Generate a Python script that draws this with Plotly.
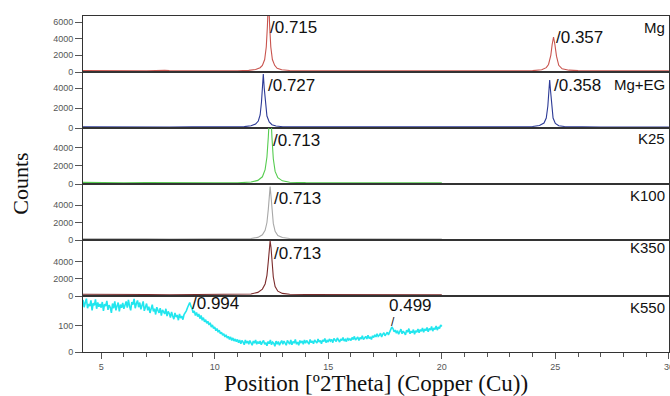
import numpy as np
import plotly.graph_objects as go
from plotly.subplots import make_subplots

# ---------------- data ----------------
samples = ["Mg", "Mg+EG", "K25", "K100", "K350", "K550"]
colors = ["#c9544e", "#2c3a96", "#55cc4f", "#a8a8a8", "#7b2b2b", "#22e6ee"]

mg_x = [4.2, 5.0, 5.6, 6.0, 7.0, 7.8, 8.0, 9.0, 10.0, 11.0, 11.5, 11.8, 12.0, 12.1, 12.2, 12.27, 12.32,
        12.37, 12.42, 12.47, 12.54, 12.64, 12.75, 12.95, 13.3, 14.0, 16.0, 18.0, 20.0, 22.0, 24.0,
        24.4, 24.6, 24.7, 24.8, 24.86, 24.92, 24.98, 25.05, 25.15, 25.3, 25.6, 26.0, 28.0, 30.0]
mg_y = [180, 150, 190, 170, 140, 190, 160, 150, 130, 150, 200, 300, 520, 800, 1500, 3000, 5500,
        9000, 5500, 3000, 1500, 800, 450, 260, 180, 150, 140, 130, 140, 150, 160,
        260, 520, 900, 2000, 3300, 4200, 3300, 1900, 800, 380, 220, 160, 150, 140]

mgeg_x = [4.2, 5.0, 6.0, 7.0, 8.0, 9.0, 10.0, 11.0, 11.3, 11.6, 11.8, 11.92, 12.0, 12.06, 12.1,
          12.14, 12.18, 12.23, 12.3, 12.4, 12.52, 12.7, 13.0, 13.5, 15.0, 17.0, 19.0, 21.0, 23.0,
          24.0, 24.3, 24.5, 24.6, 24.67, 24.71, 24.75, 24.79, 24.84, 24.9, 25.0, 25.15, 25.4,
          25.8, 27.0, 30.0]
mgeg_y = [130, 110, 100, 120, 100, 110, 100, 110, 140, 220, 400, 700, 1300, 2600, 4000,
          5400, 4000, 2500, 1200, 600, 330, 200, 130, 110, 100, 110, 100, 100, 110,
          150, 250, 500, 1000, 2200, 3800, 4800, 3700, 2100, 1000, 450, 230, 150,
          120, 100, 90]

k25_x = [4.2, 5.0, 6.0, 7.0, 8.0, 9.0, 10.0, 11.0, 11.6, 11.9, 12.1, 12.22, 12.3, 12.36, 12.4,
         12.44, 12.48, 12.52, 12.58, 12.66, 12.78, 12.98, 13.3, 14.0, 16.0, 18.0, 20.0]
k25_y = [180, 150, 140, 160, 130, 150, 140, 130, 220, 400, 800, 1600, 3000, 5200, 7500,
         9000, 7500, 5200, 2800, 1400, 700, 350, 200, 150, 140, 150, 130]

k100_x = [4.2, 5.0, 6.0, 7.0, 8.0, 9.0, 10.0, 11.0, 11.6, 11.9, 12.1, 12.22, 12.3, 12.36, 12.4,
          12.44, 12.48, 12.52, 12.58, 12.66, 12.78, 12.98, 13.3, 14.0, 16.0, 18.0, 20.0]
k100_y = [150, 120, 110, 130, 110, 120, 110, 110, 180, 300, 600, 1100, 2000, 3500, 5000,
          6100, 5000, 3400, 1900, 1000, 520, 280, 170, 130, 120, 110, 110]

k350_x = [4.2, 5.0, 6.0, 7.0, 8.0, 9.0, 10.0, 11.0, 11.6, 11.9, 12.1, 12.22, 12.3, 12.36, 12.4,
          12.44, 12.48, 12.52, 12.58, 12.66, 12.78, 12.98, 13.3, 14.0, 16.0, 18.0, 20.0]
k350_y = [200, 170, 160, 180, 150, 170, 160, 150, 240, 420, 800, 1400, 2400, 4000, 5600,
          6400, 5600, 3900, 2200, 1100, 560, 300, 200, 170, 160, 170, 150]

k550_x = np.round(np.arange(4.2, 20.0001, 0.05), 2)
k550_y = [200, 172, 190, 205, 168, 184, 176, 198, 160, 188, 179, 202, 166, 190, 174, 184,
          170, 192, 158, 184, 176, 196, 162, 180, 171, 150, 186, 168, 194, 160, 177, 190, 156, 182, 170, 188,
          166, 184, 194, 170, 200, 176, 160, 192, 182, 204, 168, 186, 198, 172, 190, 164, 182, 194, 158, 178,
          186, 160, 174, 150, 170, 182, 156, 166, 144, 172, 160, 150, 168, 140, 162, 154, 146, 166, 138, 156,
          148, 132, 154, 138, 126, 150, 134, 142, 122, 146, 130, 138, 124, 144, 150, 158, 170, 182, 190, 176,
          168, 150, 158, 140, 152, 136, 146, 128, 140, 122, 132, 116, 124, 110, 118, 104, 112, 96, 104, 90,
          96, 82, 90, 76, 84, 70, 76, 64, 70, 58, 66, 54, 60, 48, 58, 44, 54, 42, 50, 40,
          48, 36, 46, 32, 44, 38, 28, 46, 34, 42, 30, 44, 36, 26, 42, 34, 46, 30, 40, 32,
          42, 28, 38, 44, 30, 36, 24, 40, 32, 46, 28, 38, 34, 22, 42, 30, 40, 26, 36, 44,
          30, 42, 34, 26, 44, 36, 30, 46, 28, 40, 34, 48, 30, 38, 26, 44, 36, 42, 30, 46,
          34, 44, 38, 30, 48, 36, 42, 32, 46, 40, 34, 50, 38, 44, 32, 46, 40, 52, 36, 44,
          38, 50, 42, 48, 36, 52, 44, 40, 54, 46, 38, 50, 44, 56, 42, 48, 40, 54, 46, 50,
          44, 56, 48, 60, 46, 52, 58, 44, 56, 50, 62, 48, 54, 60, 50, 64, 52, 58, 48, 62,
          56, 66, 58, 70, 60, 64, 72, 58, 68, 74, 62, 70, 76, 66, 80, 86, 96, 90, 78, 84,
          72, 82, 68, 78, 88, 70, 80, 74, 66, 84, 76, 90, 70, 80, 74, 86, 68, 82, 76, 88,
          74, 86, 80, 92, 76, 88, 82, 94, 78, 90, 84, 98, 80, 92, 86, 100, 84, 96, 90, 104, 98]

series_x = [mg_x, mgeg_x, k25_x, k100_x, k350_x, list(k550_x[:len(k550_y)])]
series_y = [mg_y, mgeg_y, k25_y, k100_y, k350_y, k550_y]

y_ranges = [[0, 6720], [0, 5600], [0, 6220], [0, 6400], [0, 6500], [0, 215]]
y_ticks = [[0, 2000, 4000, 6000], [0, 2000, 4000], [0, 2000, 4000], [0, 2000, 4000],
           [0, 2000, 4000], [0, 100]]

# peak labels: (panel, x, y, text)
peak_labels = [
    (0, 12.36, 5400, "/0.715"),
    (0, 24.96, 4200, "/0.357"),
    (1, 12.24, 4300, "/0.727"),
    (1, 24.84, 4300, "/0.358"),
    (2, 12.50, 4870, "/0.713"),
    (3, 12.52, 4790, "/0.713"),
    (4, 12.52, 4990, "/0.713"),
    (5, 8.90, 188, "/0.994"),
]
label_y_domain = [0.80, 0.77, 0.82, 0.80, 0.875, 0.80]

# ---------------- figure ----------------
fig = make_subplots(rows=6, cols=1, shared_xaxes=True, vertical_spacing=0)

for i in range(6):
    fig.add_trace(go.Scatter(x=series_x[i], y=series_y[i], mode="lines",
                             line=dict(color=colors[i], width=1.1 if i < 5 else 1.6),
                             showlegend=False, hoverinfo="skip"),
                  row=i + 1, col=1)
    fig.update_yaxes(range=y_ranges[i], tickvals=y_ticks[i], ticks="outside", ticklen=7,
                     tickcolor="#555", tickwidth=1, tickfont=dict(family="Liberation Sans", size=9, color="#555"),
                     showline=True, linecolor="#333", linewidth=1, mirror=True, showgrid=False,
                     zeroline=False, automargin=False, row=i + 1, col=1)
    fig.update_xaxes(range=[4.2, 30.005], showline=True, linecolor="#333", linewidth=1, mirror=True,
                     showgrid=False, zeroline=False, automargin=False, row=i + 1, col=1)

fig.update_xaxes(ticks="outside", ticklen=6, tickcolor="#555", tickvals=[5, 10, 15, 20, 25, 30],
                 ticklabeloverflow="allow",
                 tickfont=dict(family="Liberation Sans", size=9, color="#555"),
                 minor=dict(ticks="outside", ticklen=4, dtick=1, tick0=0, tickcolor="#555"),
                 title=dict(text="Position [º2Theta] (Copper (Cu))",
                            font=dict(family="Liberation Serif", size=23, color="#111"), standoff=0),
                 row=6, col=1)

for (p, x, y, t) in peak_labels:
    ax = "x" if p == 0 else f"x{p+1}"
    ay = "y" if p == 0 else f"y{p+1}"
    fig.add_annotation(x=x, y=y, xref=ax, yref=ay, text=t, showarrow=False, xanchor="left",
                       yanchor="middle", font=dict(family="Liberation Sans", size=17, color="#111"))

# 0.499 label with its tick below
fig.add_annotation(x=18.6, y=178, xref="x6", yref="y6", text="0.499", showarrow=False,
                   xanchor="center", yanchor="middle",
                   font=dict(family="Liberation Sans", size=17, color="#111"))
fig.add_annotation(x=17.87, y=114, xref="x6", yref="y6", text="/", showarrow=False,
                   xanchor="center", yanchor="middle",
                   font=dict(family="Liberation Sans", size=12, color="#111"))

for i, name in enumerate(samples):
    ay = "y domain" if i == 0 else f"y{i+1} domain"
    fig.add_annotation(x=0.997, y=label_y_domain[i], xref="paper", yref=ay, text=name,
                       showarrow=False, xanchor="right", yanchor="middle",
                       font=dict(family="Liberation Sans", size=15, color="#111"))

fig.add_annotation(x=-0.108, y=0.5, xref="paper", yref="paper", text="Counts", textangle=-90,
                   showarrow=False, xanchor="center", yanchor="middle",
                   font=dict(family="Liberation Serif", size=22, color="#111"))

fig.update_layout(width=670, height=396, margin=dict(l=83, r=1, t=16, b=44),
                  plot_bgcolor="white", paper_bgcolor="white")

fig.write_html("out.html")
